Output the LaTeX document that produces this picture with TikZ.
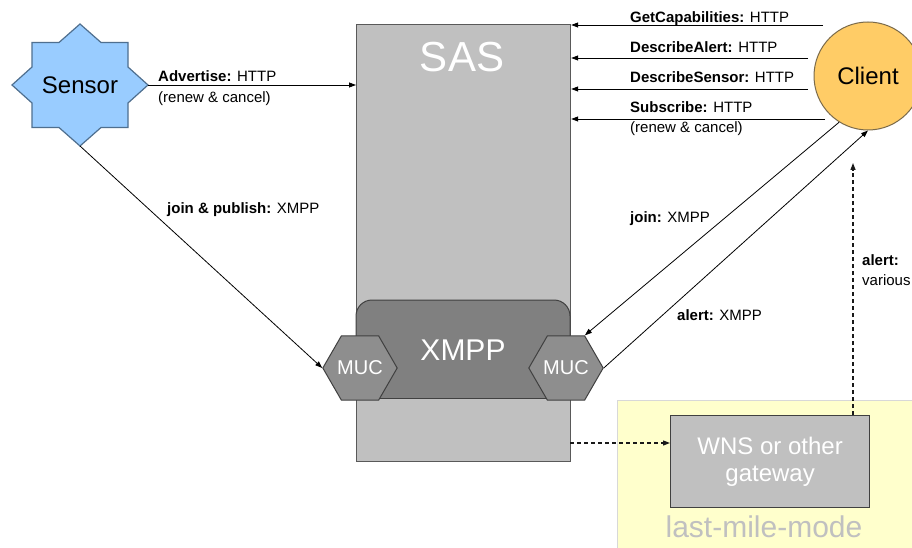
\documentclass[tikz,border=0pt]{standalone}
\usepackage{fontspec}
\setmainfont{Liberation Sans}
\usetikzlibrary{arrows.meta,shapes.geometric,calc}
\definecolor{sensorfill}{HTML}{99CCFF}
\definecolor{sensorborder}{HTML}{4F6F8F}
\definecolor{clientfill}{HTML}{FFCC66}
\definecolor{clientborder}{HTML}{7A6A4A}
\definecolor{sasfill}{HTML}{C0C0C0}
\definecolor{sasborder}{HTML}{595959}
\definecolor{xmppfill}{HTML}{808080}
\definecolor{xmppborder}{HTML}{404040}
\definecolor{mucfill}{HTML}{8E8E8E}
\definecolor{wnsfill}{HTML}{C0C0C0}
\definecolor{lmfill}{HTML}{FFFFCC}
\definecolor{lmborder}{HTML}{D8D8D8}
\definecolor{lmtext}{HTML}{C0C0C0}
\begin{document}
\begin{tikzpicture}[x=1pt,y=-1pt,
  conn/.style={draw=black, line width=0.8pt, -{Triangle[length=7pt,width=5pt]}},
  dconn/.style={draw=black!90, line width=1.2pt, dash pattern=on 4pt off 3pt, -{Triangle[length=7pt,width=5pt]}},
  lbl/.style={anchor=base west, font=\fontsize{15}{17}\selectfont, inner sep=0pt},
  muc/.style={regular polygon, regular polygon sides=6, minimum size=68pt, inner sep=0pt,
    draw=xmppborder, fill=mucfill, line width=1pt, text=white, font=\fontsize{20}{20}\selectfont}]
\useasboundingbox (0,0) rectangle (912,548);
\clip (0,0) rectangle (912,548);
\fill[white] (0,0) rectangle (912,548);

% last-mile region
\node[draw=lmborder, fill=lmfill, line width=1pt, anchor=north west, minimum width=320pt,
  minimum height=170pt, inner sep=0pt] (lastmile) at (617,400) {};
\node[text=lmtext, font=\fontsize{30}{30}\selectfont, anchor=base, inner sep=0pt] (lmlabel) at (764,537) {last-mile-mode};

% SAS
\node[draw=sasborder, fill=sasfill, line width=1.2pt, minimum width=214pt, minimum height=437pt,
  anchor=north west, inner sep=0pt] (sas) at (356,24) {};
\node[text=white, font=\fontsize{42}{42}\selectfont] (sastext) at (462,57) {SAS};

% XMPP block
\filldraw[fill=xmppfill, draw=xmppborder, line width=1pt, rounded corners=16pt]
  (356,398) -- (356,300) -- (570,300) -- (570,398);
\draw[xmppborder, line width=1pt] (356,398) -- (570,398);
\node[text=white, font=\fontsize{30}{30}\selectfont] (xmpp) at (463,350) {XMPP};

\node[muc] (lmuc) at (360,368) {MUC};
\node[muc] (rmuc) at (566,368) {MUC};

% Client
\node[circle, draw=clientborder, fill=clientfill, line width=1pt, minimum size=108pt, inner sep=0pt,
  font=\fontsize{24}{24}\selectfont] (client) at (868,76) {Client};

% WNS
\node[draw=xmppborder, fill=wnsfill, line width=1.2pt, anchor=north west, minimum width=199pt,
  minimum height=92pt, inner sep=0pt, text=white, font=\fontsize{24}{27}\selectfont, align=center]
  (wns) at (670,415) {WNS or other\\gateway};

% Sensor star
\filldraw[fill=sensorfill, draw=sensorborder, line width=1.2pt]
  (80,24) -- (101,42.5) -- (128,42.5) -- (128,67) -- (148,85) coordinate (sR) -- (128,103)
  -- (128,127.5) -- (101,127.5) -- (80,146) coordinate (sB) -- (59,127.5) -- (32,127.5)
  -- (32,103) -- (12,85) -- (32,67) -- (32,42.5) -- (59,42.5) -- cycle;
\node[font=\fontsize{24}{24}\selectfont] (sensor) at (80,85) {Sensor};

% Sensor connectors
\draw[conn] (sR) -- (sas.west |- sR);
\node[lbl] (advlbl) at (158,82) {\textbf{Advertise:} HTTP};
\node[lbl] (advlbl2) at (158,103) {(renew \& cancel)};
\draw[conn] (sB) -- (lmuc.west);
\node[lbl] (jplbl) at (167,213) {\textbf{join \& publish:} XMPP};

% Client HTTP requests
\coordinate (c1) at (823,25);
\coordinate (c2) at (808,58);
\coordinate (c3) at (808,89);
\coordinate (c4) at (825,119);
\draw[conn] (c1) -- (c1 -| sas.east);
\draw[conn] (c2) -- (c2 -| sas.east);
\draw[conn] (c3) -- (c3 -| sas.east);
\draw[conn] (c4) -- (c4 -| sas.east);
\node[lbl] (l1) at (630,23) {\textbf{GetCapabilities:} HTTP};
\node[lbl] (l2) at (630,53) {\textbf{DescribeAlert:} HTTP};
\node[lbl] (l3) at (630,83) {\textbf{DescribeSensor:} HTTP};
\node[lbl] (l4) at (630,113) {\textbf{Subscribe:} HTTP};
\node[lbl] (l4b) at (630,133) {(renew \& cancel)};

% XMPP connectors
\draw[conn] (client.238) -- (rmuc.60);
\node[lbl] (joinlbl) at (630,222) {\textbf{join:} XMPP};
\draw[conn] (rmuc.east) -- (client.south);
\node[lbl] (alertlbl) at (677,320) {\textbf{alert:} XMPP};

% last mile connectors
\coordinate (d1) at (570,443);
\draw[dconn] (d1) -- (d1 -| wns.west);
\coordinate (d2) at (853,163);
\draw[dconn] (d2 |- wns.north) -- (d2);
\node[lbl] (al1) at (862,265) {\textbf{alert:}};
\node[lbl] (al2) at (862,285) {various};
\end{tikzpicture}
\end{document}
